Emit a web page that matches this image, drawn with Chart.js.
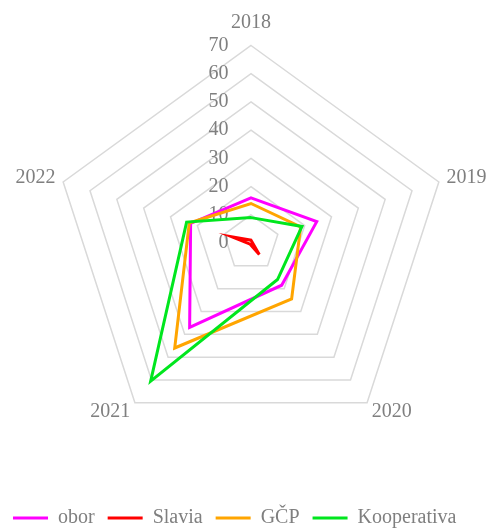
<!DOCTYPE html>
<html>
<head>
<meta charset="utf-8">
<title>Radar</title>
<script src="https://cdn.jsdelivr.net/npm/chart.js"></script>
<style>
  html, body { margin: 0; padding: 0; background: #fff; overflow: hidden; }
  #wrap { width: 502px; height: 529px; }
</style>
</head>
<body>
<div id="wrap"><canvas id="chart"></canvas></div>
<script>
// osy (roky) a hodnoty jednotlivých řad
const years = ['2018', '2019', '2020', '2021', '2022'];
const obor = [16, 24.5, 18.5, 37, 22.5];
const slavia = [1, 0.5, 5, 0.5, 7];
const gcp = [14, 18.5, 24.5, 46, 23];
const kooperativa = [9, 19, 16, 60.5, 24];
const tickValues = [0, 10, 20, 30, 40, 50, 60, 70];

const FONT = { family: '"Liberation Serif", "Times New Roman", serif', size: 20 };
const GREY = '#7f7f7f';

// popisky osy vlevo od svislé osy (jako v Excelu)
function tickLabel(v) {
  return (v < 10 ? '  ' : '') + v + ' '.repeat(13);
}
// v4 nekreslí popisek prvního ticku (0) -> dokreslit ho přes škálu
const zeroTick = {
  id: 'zeroTick',
  beforeDatasetsDraw(chart) {
    const s = chart.scales.r;
    const ctx = chart.ctx;
    ctx.save();
    ctx.font = '20px "Liberation Serif", "Times New Roman", serif';
    ctx.fillStyle = GREY;
    ctx.textAlign = 'center';
    ctx.textBaseline = 'middle';
    ctx.fillText(tickLabel(tickValues[0]), s.xCenter, s.yCenter - s.getDistanceFromCenterForValue(tickValues[0]));
    ctx.restore();
  }
};

function series(label, data, color, order) {
  return {
    label: label,
    data: data,
    borderColor: color,
    backgroundColor: color,
    borderWidth: 3,
    fill: false,
    pointRadius: 0,
    pointHoverRadius: 0,
    order: order
  };
}

new Chart(document.getElementById('chart'), {
  type: 'radar',
  data: {
    labels: years,
    datasets: [
      series('obor', obor, '#ff00ff', 3),
      series('Slavia', slavia, '#ff0000', 2),
      series('GČP', gcp, '#ffa500', 1),
      series('Kooperativa', kooperativa, '#00e61e', 0)
    ]
  },
  options: {
    responsive: true,
    maintainAspectRatio: false,
    animation: false,
    layout: { padding: { top: 14, left: 0, right: 0, bottom: -9 } },
    elements: { line: { tension: 0, borderJoinStyle: 'miter' } },
    scales: {
      r: {
        min: 0,
        max: 70,
        ticks: {
          stepSize: 10,
          showLabelBackdrop: false,
          backdropPadding: 0,
          color: GREY,
          font: FONT,
          callback: (v) => tickLabel(v)
        },
        grid: { color: '#d9d9d9', lineWidth: 1.5 },
        angleLines: { display: false },
        pointLabels: {
          color: GREY,
          font: { family: FONT.family, size: 20, lineHeight: '4px' },
          padding: (ctx) => (ctx.index === 0 ? 10.5 : -2)
        }
      }
    },
    plugins: {
      tooltip: { enabled: false },
      legend: {
        position: 'bottom',
        align: 'start',
        title: { display: true, text: '', font: { size: 10 }, padding: { top: 25, bottom: 0 } },
        labels: {
          color: GREY,
          font: FONT,
          usePointStyle: true,
          pointStyle: 'line',
          pointStyleWidth: 35,
          padding: 13,
          sort: (a, b) => a.datasetIndex - b.datasetIndex
        }
      }
    }
  },
  plugins: [zeroTick]
});
</script>
</body>
</html>
